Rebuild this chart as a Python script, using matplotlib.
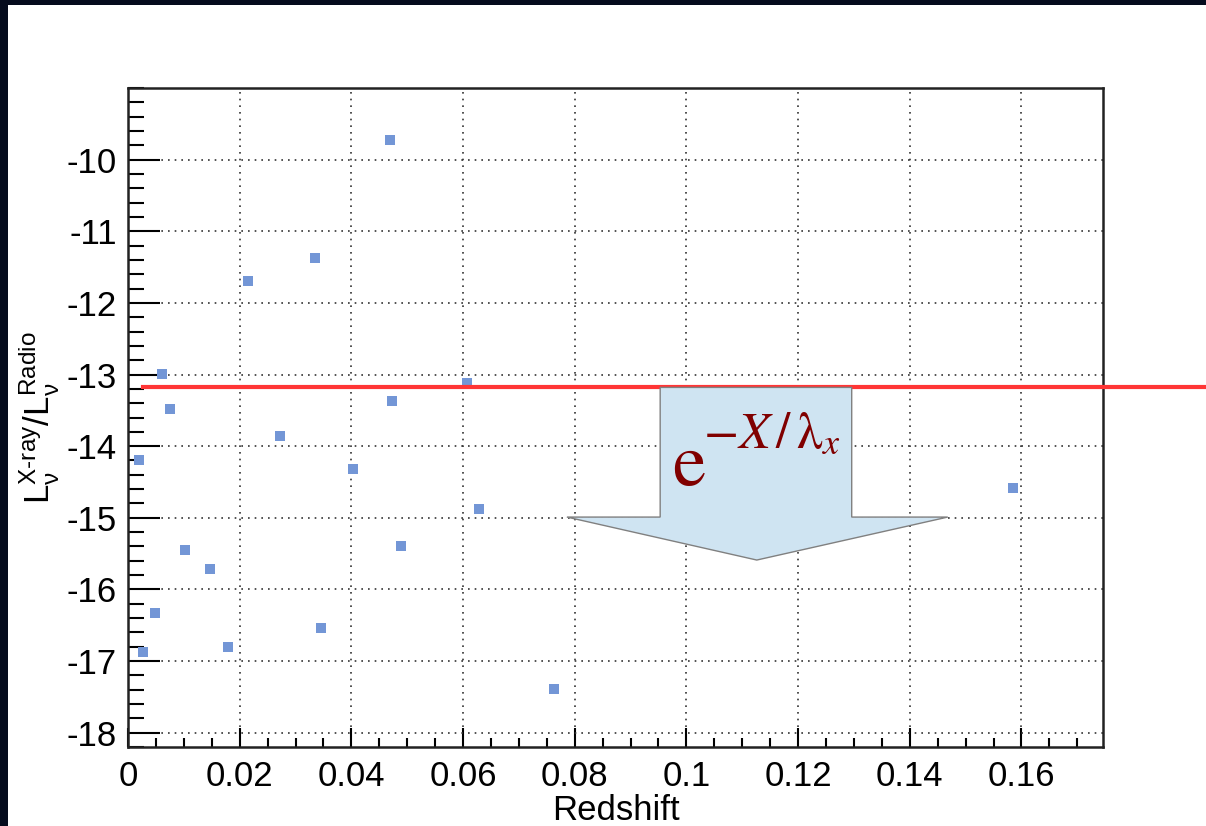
import numpy as np
import matplotlib
matplotlib.use("Agg")
from matplotlib import pyplot as plt
from matplotlib.patches import Rectangle, Polygon
from matplotlib.ticker import MultipleLocator

plt.rcParams['font.family'] = ['Liberation Sans', 'DejaVu Sans']
plt.rcParams['axes.unicode_minus'] = False
plt.rcParams['mathtext.fontset'] = 'custom'
plt.rcParams['mathtext.rm'] = 'Liberation Sans'
plt.rcParams['mathtext.it'] = 'Liberation Sans'

# redshift vs log ratio of x-ray to radio luminosity
redshift = [0.0470, 0.0335, 0.0215, 0.0060, 0.0607, 0.0076, 0.0473, 0.0272,
            0.0019, 0.0403, 0.0628, 0.1585, 0.0102, 0.0489, 0.0147, 0.0048,
            0.0346, 0.0179, 0.0026, 0.0763]
log_ratio = [-9.72, -11.38, -11.70, -12.99, -13.12, -13.48, -13.37, -13.86,
             -14.19, -14.32, -14.88, -14.59, -15.45, -15.39, -15.72, -16.33,
             -16.54, -16.80, -16.87, -17.39]

x_ticks = [0, 0.02, 0.04, 0.06, 0.08, 0.1, 0.12, 0.14, 0.16]
x_tick_labels = ['0', '0.02', '0.04', '0.06', '0.08', '0.1', '0.12', '0.14', '0.16']
y_ticks = [-18, -17, -16, -15, -14, -13, -12, -11, -10]

cut_level = -13.18
cut_start = 0.0027

# arrow shape (redshift, log ratio)
arrow_x = [0.0953, 0.1296, 0.1296, 0.1468, 0.1126, 0.0786, 0.0953]
arrow_y = [-13.18, -13.18, -14.99, -14.99, -15.59, -14.99, -14.99]

fig = plt.figure(figsize=(12.06, 8.26), dpi=100, facecolor='#050b1d')
fig.add_artist(Rectangle((8 / 1206, 0), 1, 1 - 5 / 826, transform=fig.transFigure,
                         facecolor='white', edgecolor='none', zorder=-5))

ax = fig.add_axes([128 / 1206, 1 - 747 / 826, 975 / 1206, 659 / 826])
ax.set_zorder(1)
ax.set_xlim(0, 0.1746)
ax.set_ylim(-18.2, -9.0)

ax.grid(True, which='major', linestyle=(0, (1, 3)), color='#333333', linewidth=1.2)
ax.set_axisbelow(True)

ax.plot(redshift, log_ratio, 's', color='#7396d6', markersize=7.5,
        markeredgewidth=0, zorder=4)

ax.plot([cut_start, 0.2], [cut_level, cut_level], color='#ff3535', linewidth=3,
        clip_on=False, zorder=5)

arrow = Polygon(np.column_stack([arrow_x, arrow_y]), closed=True, facecolor='#cfe4f2',
                edgecolor='#808080', linewidth=1.0, zorder=6)
ax.add_patch(arrow)

ax.text(0.0974, -14.54, r'$\mathrm{e}$', color='#800000', va='baseline',
        fontsize=54, math_fontfamily='stix', zorder=7)
ax.text(0.1030, -14.03, r'$-X\,/\,\mathrm{\lambda}_{x}$', color='#800000', va='baseline',
        fontsize=37, math_fontfamily='stix', zorder=7)

ax.set_xticks(x_ticks)
ax.set_xticklabels(x_tick_labels)
ax.set_yticks(y_ticks)
ax.xaxis.set_minor_locator(MultipleLocator(0.005))
ax.yaxis.set_minor_locator(MultipleLocator(0.2))

ax.tick_params(axis='both', which='both', direction='in', width=1.5, colors='black')
ax.tick_params(axis='both', which='major', labelsize=25)
ax.tick_params(axis='y', which='major', length=23, pad=8)
ax.tick_params(axis='y', which='minor', length=11.5)
ax.tick_params(axis='x', which='major', length=14, pad=9)
ax.tick_params(axis='x', which='minor', length=6.5)

for side in ['left', 'bottom', 'top', 'right']:
    ax.spines[side].set_linewidth(1.8)
    ax.spines[side].set_color('#222222')

ax.set_xlabel('Redshift', fontsize=25, labelpad=1)
ax.set_ylabel(r'$\mathregular{L_{\nu}^{X\text{-}ray}/L_{\nu}^{Radio}}$', fontsize=25, labelpad=4)

fig.savefig('out.png', dpi=100, facecolor=fig.get_facecolor())
